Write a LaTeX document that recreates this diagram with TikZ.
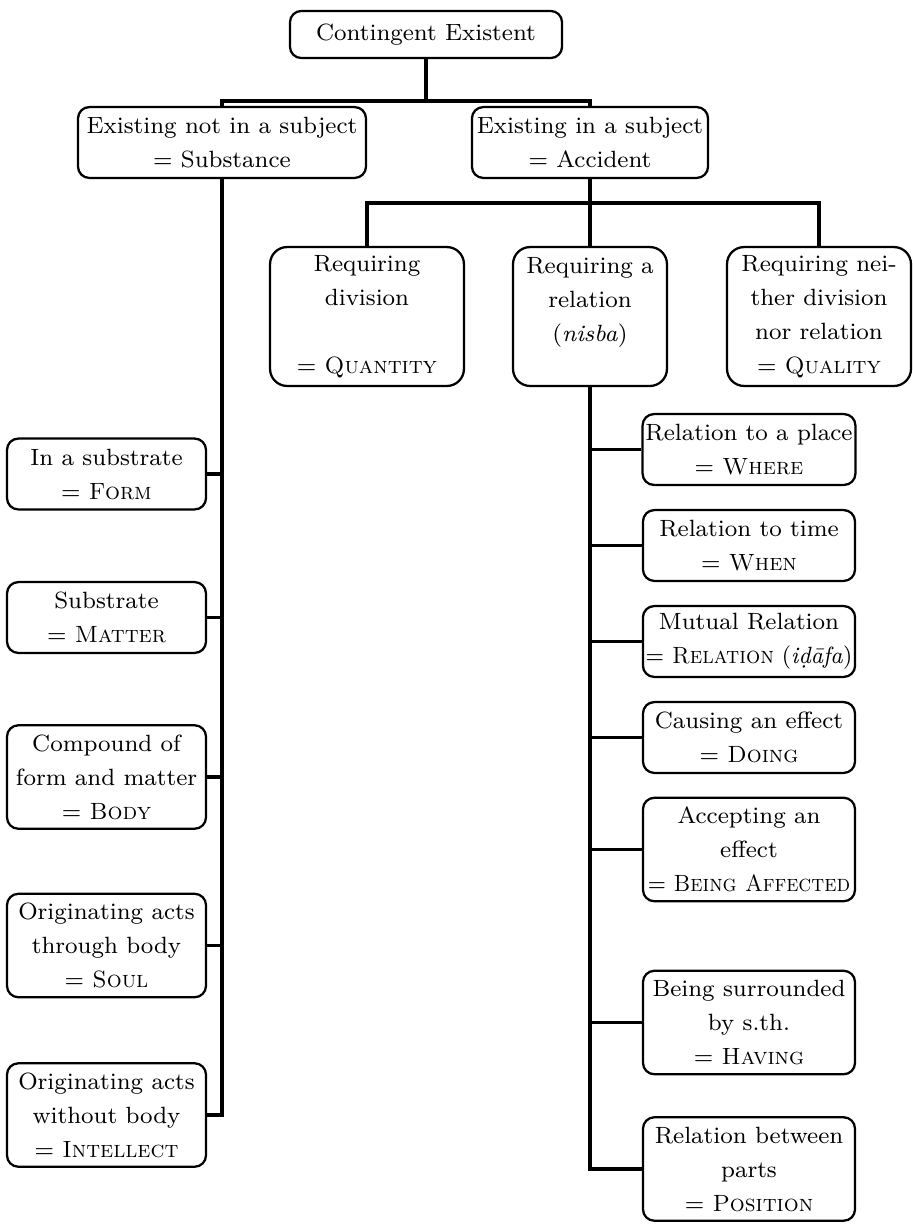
\documentclass[tikz,border=0pt]{standalone}
% squeeze a long line horizontally so that it fits its box
\newcommand{\narrowline}[2]{\scalebox{#1}[1]{#2}}
\begin{document}
\begin{tikzpicture}[x=0.3528pt,y=-0.3528pt,
  box/.style={draw, line width=0.8pt, rounded corners=4pt, align=center,
    inner sep=1pt, font=\fontsize{8.3}{12}\selectfont},
  wide/.style={rounded corners=6pt},
  two/.style={minimum height=25pt},
  three/.style={minimum height=36.5pt},
  leftkid/.style={box, minimum width=70.2pt},
  rightkid/.style={box, minimum width=74.8pt},
  link/.style={line width=1.15pt}]
\useasboundingbox (0,0) rectangle (913,1228);

% root and first division
\node[box, minimum width=96pt, minimum height=16.6pt] (ce) at (426,34.5) {Contingent Existent};
\node[box, two, minimum width=101.6pt] (sub) at (222,142.5) {Existing not in a subject\\= Substance};
\node[box, two, minimum width=83.3pt] (acc) at (590,142.5) {Existing in a subject\\= Accident};

% the three kinds of accident
\node[box, wide, minimum width=68.4pt, minimum height=49pt] (quan) at (367,316.5)
  {Requiring\\division\\\mbox{}\\= \textsc{Quantity}};
\node[box, wide, minimum width=54.3pt, minimum height=49pt] (rel) at (590,316.5)
  {Requiring a\\relation\\(\textit{nisba})\\\mbox{}};
\node[box, wide, minimum width=64.9pt, minimum height=49pt] (qual) at (819,316.5)
  {Requiring nei-\\ther division\\nor relation\\= \textsc{Quality}};

% kinds of substance
\node[leftkid, two] (form) at (106.5,474) {In a substrate\\= \textsc{Form}};
\node[leftkid, two] (matter) at (106.5,617.5) {Substrate\\= \textsc{Matter}};
\node[leftkid, three] (body) at (106.5,777) {Compound of\\form and matter\\= \textsc{Body}};
\node[leftkid, three] (soul) at (106.5,945.5) {Originating acts\\through body\\= \textsc{Soul}};
\node[leftkid, three] (intel) at (106.5,1115) {Originating acts\\without body\\= \textsc{Intellect}};

% kinds of relation
\node[rightkid, two] (where) at (749,449.5) {Relation to a place\\= \textsc{Where}};
\node[rightkid, two] (when) at (749,545.5) {Relation to time\\= \textsc{When}};
\node[rightkid, two] (mutual) at (749,641.5)
  {Mutual Relation\\\narrowline{0.95}{= \textsc{Relation} (\textit{i\d{d}\=afa})}};
\node[rightkid, two] (doing) at (749,737.5) {Causing an effect\\= \textsc{Doing}};
\node[rightkid, three] (affect) at (749,849.5)
  {Accepting an\\effect\\\narrowline{0.93}{= \textsc{Being Affected}}};
\node[rightkid, three] (having) at (749,1022.5) {Being surrounded\\by s.th.\\= \textsc{Having}};
\node[rightkid, three] (posi) at (749,1169) {Relation between\\parts\\= \textsc{Position}};

% connectors
\coordinate (j1) at (426,101);
\coordinate (j2) at (590,203);
\draw[link] (ce.south) -- (j1);
\draw[link] (sub.north) |- (j1) -| (acc.north);
\draw[link] (acc.south) -- (j2);
\draw[link] (quan.north) |- (j2) -| (qual.north);
\draw[link] (j2) -- (rel.north);

\draw[link] (sub.south) |- (intel.east);
\foreach \n in {form,matter,body,soul}
  \draw[link] (\n.east) -- (\n.east -| sub.south);

\draw[link] (rel.south) |- (posi.west);
\foreach \n in {where,when,mutual,doing,affect,having}
  \draw[link] (\n.west) -- (\n.west -| rel.south);
\end{tikzpicture}
\end{document}
